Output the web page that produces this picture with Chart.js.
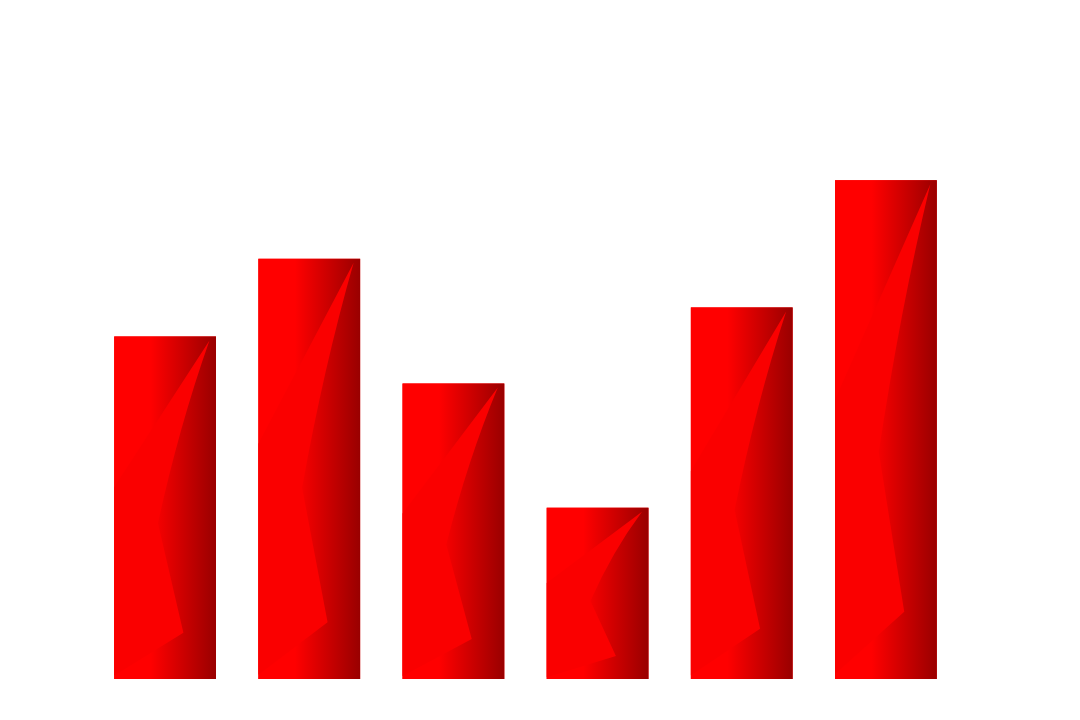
<!DOCTYPE html>
<html>
<head>
<meta charset="utf-8">
<script src="https://cdn.jsdelivr.net/npm/chart.js@4/dist/chart.umd.min.js"></script>
<style>
  html, body { margin: 0; padding: 0; background: #fff; }
  #wrap { width: 1080px; height: 720px; }
</style>
</head>
<body>
<div id="wrap"><canvas id="barChart"></canvas></div>
<script>
const categories = ['A', 'B', 'C', 'D', 'E', 'F'];
const values = [34.2, 41.95, 29.5, 17.1, 37.1, 49.8];
const yMax = 60;

// horizontal red -> dark red shading plus the lighter fold on each bar
const foldPlugin = {
    id: 'fold',
    afterDatasetDraw(chart, args) {
        const ctx = chart.ctx;
        args.meta.data.forEach(bar => {
            const w = bar.width;
            const h = bar.base - bar.y;
            const left = bar.x - w / 2;
            const right = bar.x + w / 2;
            const top = bar.y;
            ctx.save();
            const g = ctx.createLinearGradient(left, 0, right, 0);
            g.addColorStop(0, '#ff0000');
            g.addColorStop(0.36, '#ff0000');
            g.addColorStop(1, '#990000');
            ctx.fillStyle = g;
            ctx.fillRect(left, top, w, h);

            ctx.fillStyle = '#fa0000';
            ctx.beginPath();
            ctx.moveTo(right - 6.5, top + 4);
            ctx.quadraticCurveTo(left + w * 0.64, top + h * 0.26, left + w * 0.43, top + h * 0.545);
            ctx.lineTo(left + w * 0.68, top + h * 0.865);
            ctx.lineTo(left, top + h * 0.99);
            ctx.lineTo(left, top + h * 0.44);
            ctx.closePath();
            ctx.fill();
            ctx.restore();
        });
    }
};

const ctx = document.getElementById('barChart').getContext('2d');
new Chart(ctx, {
    type: 'bar',
    data: {
        labels: categories,
        datasets: [{
            data: values,
            backgroundColor: '#ff0000',
            borderWidth: 0,
            categoryPercentage: 1,
            barPercentage: 0.706
        }]
    },
    options: {
        responsive: true,
        maintainAspectRatio: false,
        animation: false,
        layout: {
            padding: { left: 93, right: 122, top: 78, bottom: 41 }
        },
        scales: {
            x: { display: false },
            y: { display: false, min: 0, max: yMax }
        },
        plugins: {
            legend: { display: false },
            tooltip: { enabled: false }
        }
    },
    plugins: [foldPlugin]
});
</script>
</body>
</html>
